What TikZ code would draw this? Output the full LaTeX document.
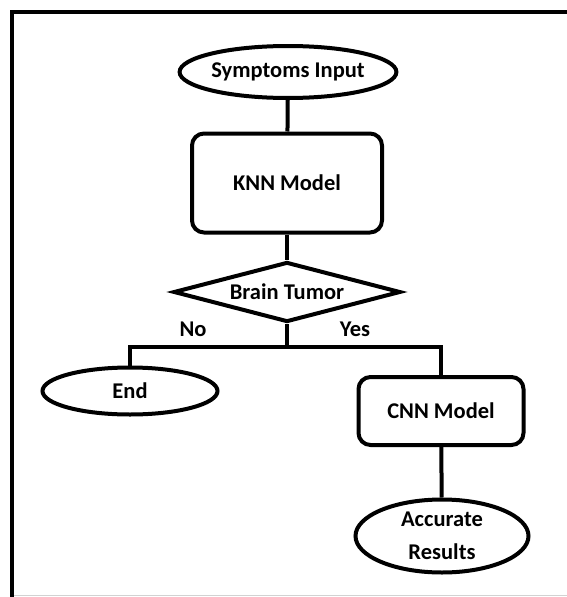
\documentclass[tikz,border=0pt]{standalone}
\usepackage{fontspec}
\setmainfont{Carlito}
\usepackage{tikz}
\usetikzlibrary{shapes.geometric}
\tikzstyle{block} = [rectangle, draw, fill=white, rounded corners=12pt,
                 line width=4pt, inner sep=0pt]
\tikzstyle{term} = [ellipse, draw, fill=white, line width=4pt, inner sep=0pt,
                 align=center]
\tikzstyle{decide} = [diamond, draw, fill=white, line width=4pt, inner sep=0pt,
                 aspect=3.8]
\tikzstyle{wire} = [line width=4pt]

\begin{document}
\begin{tikzpicture}[x=1pt, y=-1pt,
    every node/.style={font=\fontsize{22.5}{27}\selectfont\bfseries}]

\useasboundingbox (0,0) rectangle (567,597);
    	%frame
\draw[line width=4pt] (12,597) -- (12,12) -- (567,12);
\draw[gray!35, line width=0.8pt] (14,595) -- (567,595);

\node [term, minimum width=207pt, minimum height=52pt] at (288,72) (input) {Symptoms Input};
\node [block, minimum width=190pt, minimum height=99pt] at (287,183) (knn) {KNN Model};
\node [decide, minimum width=227pt, minimum height=60pt] at (287,292) (tumor) {Brain Tumor};
\coordinate (split) at (287,347);
\node [term, minimum width=175pt, minimum height=47pt] at (130,391) (end) {End};
\node [block, minimum width=165pt, minimum height=68pt] at (441,411) (cnn) {CNN Model};
\node [term, minimum width=173pt, minimum height=73pt] at (442,536) (result) {Accurate\\[6pt]Results};

\node at (193,329) (no) {No};
\node at (355,329) (yes) {Yes};

\draw[wire] (input) -- (knn);
\draw[wire] (knn) -- (tumor);
\draw[wire] (tumor.south) -- (split);
\draw[wire] (end.north) |- (split) -| (cnn.north);
\draw[wire] (cnn) -- (result);

\end{tikzpicture}
\end{document}
